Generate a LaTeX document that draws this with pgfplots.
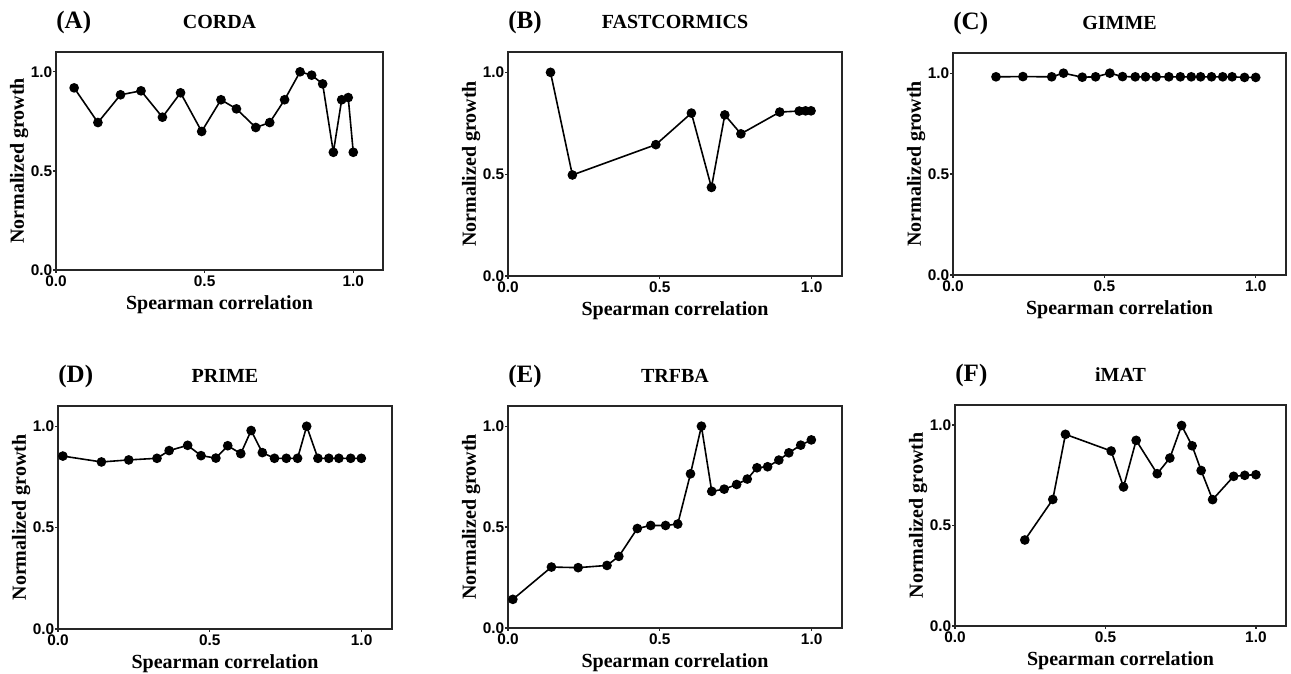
\documentclass[border=0pt]{standalone}
\usepackage{fontspec}
\setmainfont{Liberation Serif}
\newfontfamily\tickfont{Liberation Sans}
\usepackage{pgfplots}
\pgfplotsset{compat=1.18}

\pgfplotsset{
  panel/.style={
    scale only axis, anchor=south west, clip=false,
    xmin=0, xmax=1.1, ymin=0, ymax=1.1,
    xtick={0,0.5,1}, ytick={0,0.5,1},
    tick pos=left, tick align=outside, major tick length=1.5pt,
    axis line style={black!85, line width=0.9pt},
    tick style={black!85, line width=0.6pt},
    xlabel={Spearman correlation}, ylabel={Normalized growth},
    label style={font=\bfseries\fontsize{10}{12}\selectfont},
    xlabel style={yshift=0pt},
    ylabel style={yshift=-2.5pt},
    tick label style={font=\tickfont\bfseries\fontsize{7.7}{9}\selectfont},
    yticklabel style={inner sep=0.2pt},
    xticklabel style={inner sep=1pt},
    /pgf/number format/fixed, /pgf/number format/fixed zerofill,
    /pgf/number format/precision=1, /pgf/number format/assume math mode=true,
  },
  pts/.style={black, solid, line width=0.8pt, mark=*, mark size=2pt, mark options={solid, fill=black}},
}
\newcommand\paneltitle[2]{%
  \node[anchor=west, inner sep=0, font=\bfseries\fontsize{12.5}{14}\selectfont] at (rel axis cs:0,1) [yshift=15pt] {#1};
  \node[inner sep=0, font=\bfseries\fontsize{10}{12}\selectfont] at (rel axis cs:0.5,1) [yshift=15pt] {#2};}

\begin{document}
\begin{tikzpicture}
\useasboundingbox (0,0) rectangle (645.5pt,337pt);

% (A) CORDA
\begin{axis}[panel, at={(28pt,202pt)}, width=163.5pt, height=109pt]
\addplot[pts] coordinates {(0.061,0.919) (0.141,0.744) (0.217,0.884) (0.286,0.904) (0.358,0.771) (0.419,0.894) (0.490,0.699) (0.555,0.859) (0.607,0.813) (0.672,0.719) (0.719,0.744) (0.769,0.859) (0.821,1.000) (0.860,0.983) (0.897,0.939) (0.933,0.594) (0.961,0.859) (0.983,0.870) (1.000,0.594)};
\paneltitle{(A)}{CORDA}
\end{axis}

% (B) FASTCORMICS
\begin{axis}[panel, at={(254pt,199pt)}, width=167pt, height=112pt]
\addplot[pts] coordinates {(0.140,1.000) (0.212,0.496) (0.487,0.645) (0.604,0.800) (0.670,0.435) (0.714,0.791) (0.767,0.698) (0.895,0.805) (0.959,0.810) (0.980,0.811) (0.998,0.811)};
\paneltitle{(B)}{FASTCORMICS}
\end{axis}

% (C) GIMME
\begin{axis}[panel, at={(476.5pt,199.5pt)}, width=166.5pt, height=111pt]
\addplot[pts] coordinates {(0.142,0.982) (0.231,0.983) (0.326,0.982) (0.365,1.000) (0.427,0.980) (0.471,0.982) (0.518,1.000) (0.560,0.983) (0.602,0.982) (0.636,0.982) (0.671,0.982) (0.713,0.982) (0.751,0.982) (0.787,0.982) (0.818,0.982) (0.854,0.982) (0.891,0.982) (0.922,0.982) (0.963,0.979) (1.000,0.979)};
\paneltitle{(C)}{GIMME}
\end{axis}

% (D) PRIME
\begin{axis}[panel, at={(29pt,22.5pt)}, width=167pt, height=111.5pt]
\addplot[pts] coordinates {(0.016,0.853) (0.143,0.824) (0.233,0.834) (0.326,0.842) (0.366,0.880) (0.427,0.906) (0.471,0.855) (0.520,0.843) (0.559,0.904) (0.602,0.865) (0.636,0.979) (0.673,0.870) (0.713,0.842) (0.752,0.842) (0.789,0.842) (0.819,1.000) (0.856,0.842) (0.892,0.842) (0.925,0.842) (0.964,0.842) (0.999,0.842)};
\paneltitle{(D)}{PRIME}
\end{axis}

% (E) TRFBA
\begin{axis}[panel, at={(254pt,23pt)}, width=167pt, height=111pt]
\addplot[pts] coordinates {(0.016,0.142) (0.143,0.302) (0.231,0.299) (0.326,0.310) (0.365,0.355) (0.426,0.493) (0.470,0.508) (0.519,0.508) (0.559,0.515) (0.601,0.764) (0.637,1.000) (0.671,0.677) (0.712,0.688) (0.753,0.711) (0.788,0.738) (0.820,0.794) (0.855,0.799) (0.892,0.832) (0.925,0.868) (0.964,0.906) (0.999,0.932)};
\paneltitle{(E)}{TRFBA}
\end{axis}

% (F) iMAT
\begin{axis}[panel, at={(477.5pt,24pt)}, width=165.5pt, height=110.5pt]
\addplot[pts] coordinates {(0.232,0.428) (0.325,0.630) (0.367,0.954) (0.519,0.871) (0.560,0.692) (0.602,0.924) (0.672,0.758) (0.714,0.836) (0.753,0.998) (0.788,0.897) (0.818,0.774) (0.856,0.629) (0.926,0.745) (0.963,0.750) (1.000,0.753)};
\paneltitle{(F)}{iMAT}
\end{axis}
\end{tikzpicture}
\end{document}
